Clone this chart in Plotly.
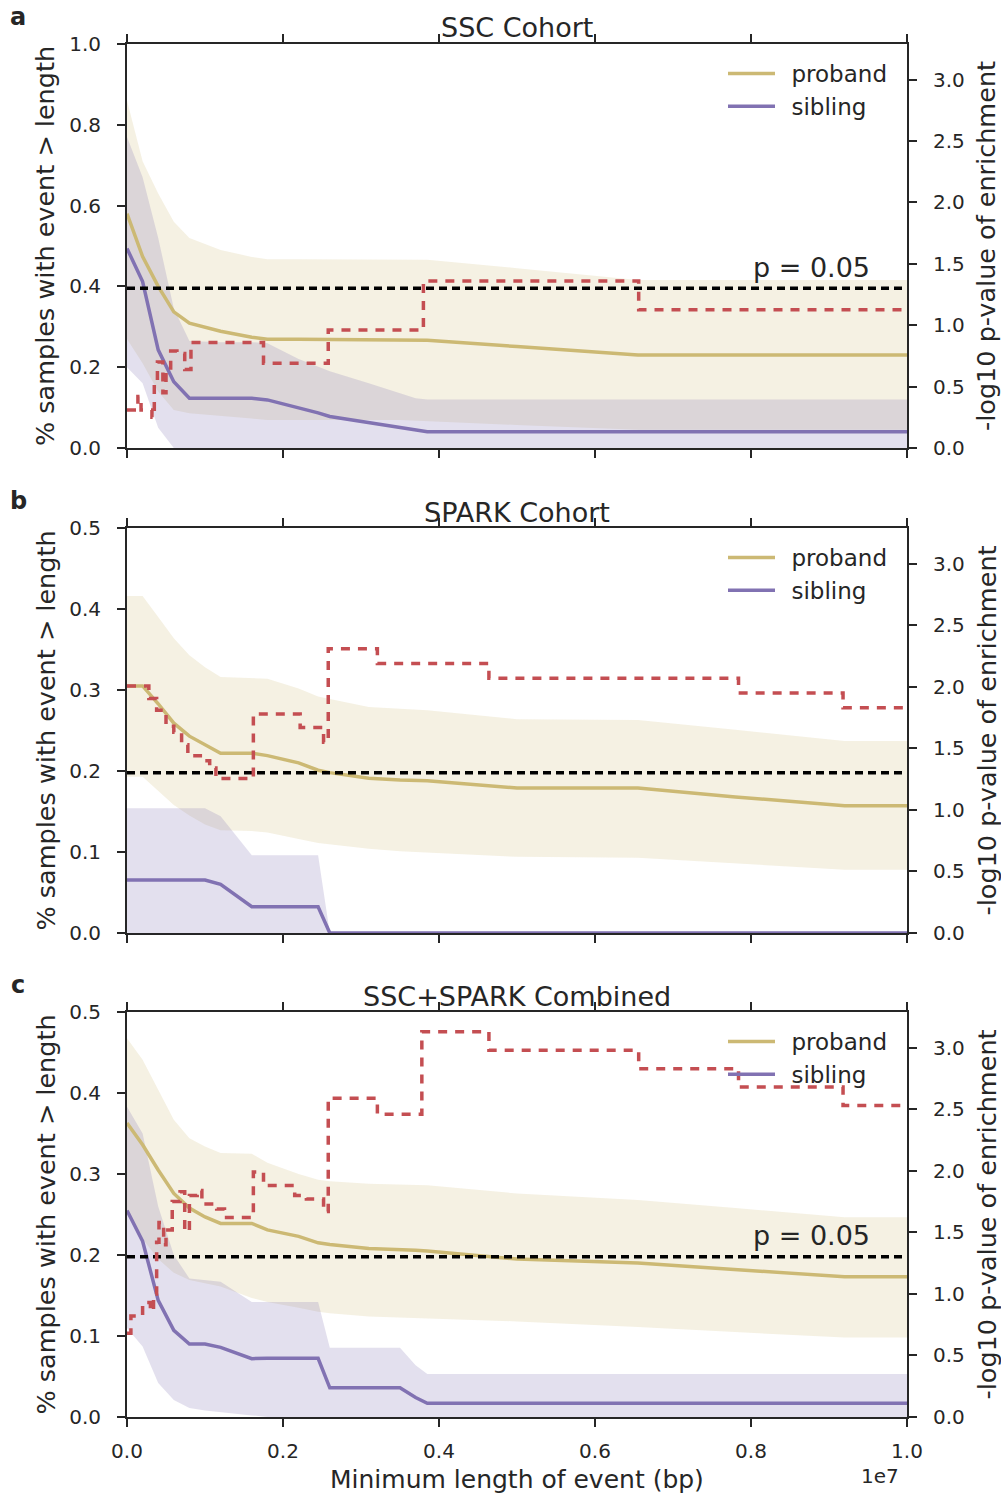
import plotly.graph_objects as go

W, H = 1001, 1496
FONT = "DejaVu Sans"
INK = "#262626"
GOLD = "#CCB974"
PURPLE = "#8172B2"
RED = "#C44E52"
GOLD_FILL = "rgba(204,185,116,0.2)"
PURPLE_FILL = "rgba(129,114,178,0.22)"

# ---------------- data ----------------
# shared x grid for the curves, in Mb (scaled to bp below)
x_grid_mb = [0, 0.2, 0.4, 0.6, 0.8, 1.0, 1.2, 1.6, 1.8, 2.2, 2.45, 2.6, 3.1, 3.5, 3.7, 3.85, 5.0, 6.55, 7.8, 9.2, 10.0]

# Panel a: SSC cohort
ssc_proband = [0.58, 0.474, 0.40, 0.337, 0.309, 0.298, 0.289, 0.274, 0.269, 0.269, 0.269, 0.269, 0.269, 0.269, 0.269, 0.267, 0.251, 0.23, 0.23, 0.23, 0.23]
ssc_proband_hi = [0.86, 0.71, 0.63, 0.56, 0.52, 0.505, 0.49, 0.473, 0.467, 0.467, 0.467, 0.467, 0.467, 0.467, 0.467, 0.466, 0.445, 0.416, 0.416, 0.416, 0.416]
ssc_proband_lo = [0.27, 0.21, 0.14, 0.094, 0.086, 0.083, 0.080, 0.073, 0.069, 0.069, 0.069, 0.069, 0.069, 0.069, 0.069, 0.067, 0.057, 0.045, 0.045, 0.045, 0.045]
ssc_sibling = [0.494, 0.412, 0.243, 0.164, 0.123, 0.123, 0.123, 0.123, 0.119, 0.100, 0.087, 0.078, 0.062, 0.050, 0.045, 0.040, 0.040, 0.040, 0.040, 0.040, 0.040]
ssc_sibling_hi = [0.77, 0.67, 0.52, 0.345, 0.265, 0.263, 0.262, 0.262, 0.259, 0.22, 0.20, 0.19, 0.16, 0.135, 0.123, 0.12, 0.12, 0.12, 0.12, 0.12, 0.12]
ssc_sibling_lo = [0.20, 0.16, 0.05, 0.0, 0, 0, 0, 0, 0, 0, 0, 0, 0, 0, 0, 0, 0, 0, 0, 0, 0]
ssc_p_x_mb = [0, 0.14, 0.18, 0.32, 0.35, 0.39, 0.46, 0.50, 0.56, 0.64, 0.74, 0.82, 1.75, 2.58, 3.80, 6.56, 10.0]
ssc_p = [0.31, 0.42, 0.31, 0.25, 0.55, 0.70, 0.45, 0.62, 0.79, 0.77, 0.64, 0.86, 0.69, 0.96, 1.36, 1.125, 1.125]

# Panel b: SPARK cohort
spark_proband = [0.305, 0.305, 0.283, 0.259, 0.243, 0.232, 0.222, 0.222, 0.219, 0.21, 0.201, 0.198, 0.191, 0.189, 0.188, 0.188, 0.179, 0.179, 0.168, 0.157, 0.157]
spark_proband_hi = [0.416, 0.416, 0.39, 0.364, 0.343, 0.328, 0.316, 0.315, 0.314, 0.302, 0.292, 0.289, 0.279, 0.277, 0.276, 0.275, 0.264, 0.263, 0.251, 0.237, 0.237]
spark_proband_lo = [0.193, 0.193, 0.175, 0.158, 0.145, 0.134, 0.127, 0.126, 0.124, 0.116, 0.111, 0.109, 0.104, 0.101, 0.100, 0.099, 0.094, 0.093, 0.086, 0.078, 0.078]
spark_sibling = [0.0654, 0.0654, 0.0654, 0.0654, 0.0654, 0.0654, 0.060, 0.0325, 0.0325, 0.0325, 0.0325, 0, 0, 0, 0, 0, 0, 0, 0, 0, 0]
spark_sibling_hi = [0.154, 0.154, 0.154, 0.154, 0.154, 0.154, 0.144, 0.096, 0.096, 0.096, 0.096, 0, 0, 0, 0, 0, 0, 0, 0, 0, 0]
spark_sibling_lo = [0] * 21
spark_p_x_mb = [0, 0.28, 0.38, 0.5, 0.6, 0.7, 0.78, 0.94, 1.06, 1.14, 1.62, 2.22, 2.52, 2.58, 3.21, 4.64, 7.84, 9.18, 10.0]
spark_p = [2.007, 1.905, 1.81, 1.68, 1.63, 1.53, 1.44, 1.40, 1.34, 1.255, 1.78, 1.67, 1.55, 2.31, 2.19, 2.07, 1.95, 1.83, 1.83]

# Panel c: SSC+SPARK combined
comb_proband = [0.363, 0.336, 0.305, 0.276, 0.258, 0.247, 0.239, 0.239, 0.231, 0.223, 0.215, 0.213, 0.208, 0.207, 0.206, 0.205, 0.195, 0.190, 0.182, 0.173, 0.173]
comb_proband_hi = [0.4675, 0.441, 0.404, 0.367, 0.344, 0.334, 0.326, 0.325, 0.314, 0.300, 0.293, 0.291, 0.288, 0.287, 0.286, 0.286, 0.276, 0.268, 0.258, 0.2465, 0.2465]
comb_proband_lo = [0.25, 0.22, 0.195, 0.178, 0.169, 0.165, 0.161, 0.147, 0.142, 0.135, 0.130, 0.128, 0.124, 0.123, 0.122, 0.122, 0.118, 0.111, 0.105, 0.098, 0.098]
comb_sibling = [0.255, 0.217, 0.144, 0.107, 0.090, 0.090, 0.086, 0.072, 0.0725, 0.0725, 0.0725, 0.036, 0.036, 0.036, 0.024, 0.017, 0.017, 0.017, 0.017, 0.017, 0.017]
comb_sibling_hi = [0.383, 0.35, 0.26, 0.20, 0.171, 0.169, 0.167, 0.142, 0.142, 0.142, 0.142, 0.0856, 0.0856, 0.0856, 0.064, 0.053, 0.053, 0.053, 0.053, 0.053, 0.053]
comb_sibling_lo = [0.11, 0.087, 0.042, 0.021, 0.011, 0.008, 0.006, 0.002, 0, 0, 0, 0, 0, 0, 0, 0, 0, 0, 0, 0, 0]
comb_p_x_mb = [0, 0.05, 0.2, 0.3, 0.34, 0.38, 0.41, 0.47, 0.5, 0.58, 0.68, 0.74, 0.8, 0.9, 0.96, 1.15, 1.25, 1.62, 1.75, 2.15, 2.3, 2.52, 2.58, 3.21, 3.78, 4.64, 6.56, 7.84, 9.18, 10.0]
comb_p = [0.68, 0.82, 0.93, 0.86, 1.0, 1.42, 1.58, 1.40, 1.52, 1.75, 1.83, 1.51, 1.80, 1.84, 1.73, 1.69, 1.62, 1.99, 1.88, 1.80, 1.77, 1.67, 2.59, 2.46, 3.13, 2.98, 2.83, 2.68, 2.53, 2.53]

p_threshold = 0.05
threshold_y = 1.30103  # -log10(0.05)

panel_titles = ["SSC Cohort", "SPARK Cohort", "SSC+SPARK Combined"]
panel_letters = ["a", "b", "c"]
left_ranges = [1.0, 0.5, 0.5]
left_dticks = [0.2, 0.1, 0.1]
right_max = 3.29
x_tick_vals_mb = [0, 2, 4, 6, 8, 10]
x_tick_text = ["0.0", "0.2", "0.4", "0.6", "0.8", "1.0"]
show_p_label = [True, False, True]
legend_names = ["proband", "sibling"]

panels = [
    (ssc_proband, ssc_proband_hi, ssc_proband_lo, ssc_sibling, ssc_sibling_hi, ssc_sibling_lo, ssc_p_x_mb, ssc_p),
    (spark_proband, spark_proband_hi, spark_proband_lo, spark_sibling, spark_sibling_hi, spark_sibling_lo, spark_p_x_mb, spark_p),
    (comb_proband, comb_proband_hi, comb_proband_lo, comb_sibling, comb_sibling_hi, comb_sibling_lo, comb_p_x_mb, comb_p),
]

# ---------------- layout geometry (pixels) ----------------
X0, X1 = 127, 907
panel_px = [(44, 448), (528, 933), (1012, 1417)]


def px_x(px):
    return px / W


def px_y(py):
    return 1 - py / H


to_bp = lambda xs: [v * 1e6 for v in xs]
xg = to_bp(x_grid_mb)

fig = go.Figure()
layout = dict(
    width=W, height=H, margin=dict(l=0, r=0, t=0, b=0, autoexpand=False),
    paper_bgcolor="white", plot_bgcolor="white",
    font=dict(family=FONT, color=INK, size=20),
    showlegend=True,
)
annotations = []

tickfont = dict(family=FONT, size=20, color=INK)
axis_common = dict(showgrid=False, zeroline=False, showline=True, linewidth=2, linecolor=INK,
                   ticks="outside", ticklen=8, tickwidth=2, tickcolor=INK, tickfont=tickfont,
                   automargin=False)

for i, (pr, prh, prl, sb, sbh, sbl, pxm, pv) in enumerate(panels):
    n = i + 1
    xa = "x" if n == 1 else f"x{n}"
    yl = "y" if i == 0 else f"y{2 * i + 1}"
    yr = f"y{2 * i + 2}"
    top, bot = panel_px[i]
    legend_id = "legend" if n == 1 else f"legend{n}"

    # confidence bands
    fig.add_trace(go.Scatter(x=xg + xg[::-1], y=prh + prl[::-1], fill="toself", fillcolor=GOLD_FILL,
                             line=dict(width=0), mode="lines", hoverinfo="skip", showlegend=False,
                             xaxis=xa, yaxis=yl))
    fig.add_trace(go.Scatter(x=xg + xg[::-1], y=sbh + sbl[::-1], fill="toself", fillcolor=PURPLE_FILL,
                             line=dict(width=0), mode="lines", hoverinfo="skip", showlegend=False,
                             xaxis=xa, yaxis=yl))
    # lines
    fig.add_trace(go.Scatter(x=xg, y=pr, mode="lines", name="\u2002" + legend_names[0],
                             line=dict(color=GOLD, width=3.5), xaxis=xa, yaxis=yl, legend=legend_id))
    fig.add_trace(go.Scatter(x=xg, y=sb, mode="lines", name="\u2002" + legend_names[1],
                             line=dict(color=PURPLE, width=3.5), xaxis=xa, yaxis=yl, legend=legend_id))
    # p-value threshold and enrichment p-values
    fig.add_trace(go.Scatter(x=[0, 1e7], y=[threshold_y, threshold_y], mode="lines",
                             line=dict(color="black", width=3.5, dash="8px,5px"), showlegend=False,
                             xaxis=xa, yaxis=yr))
    fig.add_trace(go.Scatter(x=to_bp(pxm), y=pv, mode="lines", line_shape="hv",
                             line=dict(color=RED, width=3.5, dash="9px,8px"), showlegend=False,
                             xaxis=xa, yaxis=yr))

    ydom = [px_y(bot), px_y(top)]
    layout["xaxis" if n == 1 else f"xaxis{n}"] = dict(
        axis_common, domain=[px_x(X0), px_x(X1)], anchor=yl, range=[0, 1e7],
        tickvals=to_bp(x_tick_vals_mb), ticktext=x_tick_text, showticklabels=(i == 2),
        mirror="ticks", ticklabelstandoff=7,
    )
    layout["yaxis" if i == 0 else f"yaxis{2 * i + 1}"] = dict(
        axis_common, domain=ydom, anchor=xa, range=[0, left_ranges[i]], dtick=left_dticks[i],
        tick0=0, tickformat=".1f", ticklabelstandoff=12,
    )
    layout[f"yaxis{2 * i + 2}"] = dict(
        axis_common, overlaying=yl, side="right", anchor=xa, range=[0, right_max], dtick=0.5,
        tick0=0, tickformat=".1f", ticklabelstandoff=12,
    )
    layout[legend_id] = dict(
        x=px_x(723), y=px_y(top + 8), xanchor="left", yanchor="top", bgcolor="rgba(0,0,0,0)",
        font=dict(family=FONT, size=23, color=INK), itemwidth=47, tracegroupgap=0,
    )

    # texts
    mid_y = (top + bot) / 2
    annotations.append(dict(text=panel_titles[i], x=px_x((X0 + X1) / 2), y=px_y(top - 16), xref="paper", yref="paper",
                            showarrow=False, font=dict(family=FONT, size=27, color=INK), xanchor="center", yanchor="middle"))
    annotations.append(dict(text=f"<b>{panel_letters[i]}</b>", x=px_x(18), y=px_y(top - 27), xref="paper", yref="paper",
                            showarrow=False, font=dict(family=FONT, size=24, color=INK), xanchor="center", yanchor="middle"))
    annotations.append(dict(text="% samples with event > length", x=px_x(45), y=px_y(mid_y), xref="paper", yref="paper",
                            showarrow=False, textangle=-90, font=dict(family=FONT, size=25.5, color=INK),
                            xanchor="center", yanchor="middle"))
    annotations.append(dict(text="-log10 p-value of enrichment", x=px_x(986), y=px_y(mid_y), xref="paper", yref="paper",
                            showarrow=False, textangle=-90, font=dict(family=FONT, size=25.5, color=INK),
                            xanchor="center", yanchor="middle"))
    if show_p_label[i]:
        annotations.append(dict(text=f"p = {p_threshold}", x=px_x(751), y=px_y(top + 223), xref="paper", yref="paper",
                                showarrow=False, font=dict(family=FONT, size=27, color=INK),
                                xanchor="left", yanchor="middle"))

annotations.append(dict(text="Minimum length of event (bp)", x=px_x(517), y=px_y(1479), xref="paper", yref="paper",
                        showarrow=False, font=dict(family=FONT, size=25, color=INK), xanchor="center", yanchor="middle"))
annotations.append(dict(text="1e7", x=px_x(880), y=px_y(1476), xref="paper", yref="paper",
                        showarrow=False, font=dict(family=FONT, size=20, color=INK), xanchor="center", yanchor="middle"))

layout["annotations"] = annotations
fig.update_layout(**layout)
fig.write_html("out.html")
